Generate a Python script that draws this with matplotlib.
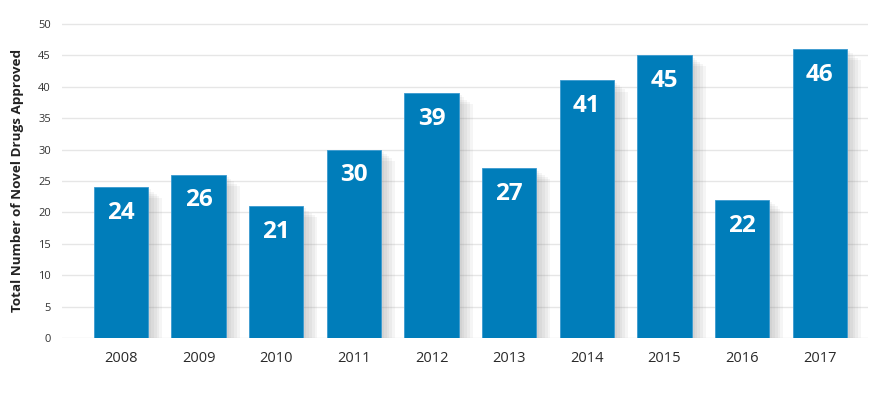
import matplotlib.pyplot as plt
import matplotlib.patheffects as pe

years = ['2008', '2009', '2010', '2011', '2012', '2013', '2014', '2015', '2016', '2017']
approvals = [24, 26, 21, 30, 39, 27, 41, 45, 22, 46]

plt.rcParams['font.family'] = ['Open Sans', 'DejaVu Sans']

fig = plt.figure(figsize=(8.91, 3.93), dpi=100)
ax = fig.add_axes([62 / 891, 55 / 393, 806 / 891, 316 / 393])

x = range(len(years))
bars = ax.bar(x, approvals, width=0.7, color='#007dba', edgecolor='#3a9ad0', linewidth=0.6, zorder=3)
# soft shadow on the right side: a few faint offset copies
shadow = [pe.SimplePatchShadow(offset=(o, -o * 0.8), shadow_rgbFace='#808080', alpha=0.08)
          for o in (10, 8, 6, 4, 2)]
for b in bars:
    b.set_path_effects(shadow + [pe.Normal()])

for xi, v in zip(x, approvals):
    ax.text(xi, v - 4.1, str(v), ha='center', va='center', color='white',
            fontsize=17.5, fontweight='bold', zorder=4)

ax.set_xlim(-0.76, 9.62)
ax.set_ylim(0, 50.3)
ax.set_yticks(range(0, 51, 5))
ax.yaxis.grid(True, color='#e6e6e6', linewidth=1, zorder=0)
ax.set_xticks(list(x))
ax.set_xticklabels(years, fontsize=10.5, color='#2a2a2a')
ax.tick_params(axis='y', labelsize=8, colors='#333333', length=0, pad=8)
ax.tick_params(axis='x', length=0, pad=9)
for s in ax.spines.values():
    s.set_visible(False)
ax.set_ylabel('Total Number of Novel Drugs Approved', fontsize=9.7, fontweight='bold',
              color='#222222', labelpad=10)

fig.savefig('out.png', dpi=100)
